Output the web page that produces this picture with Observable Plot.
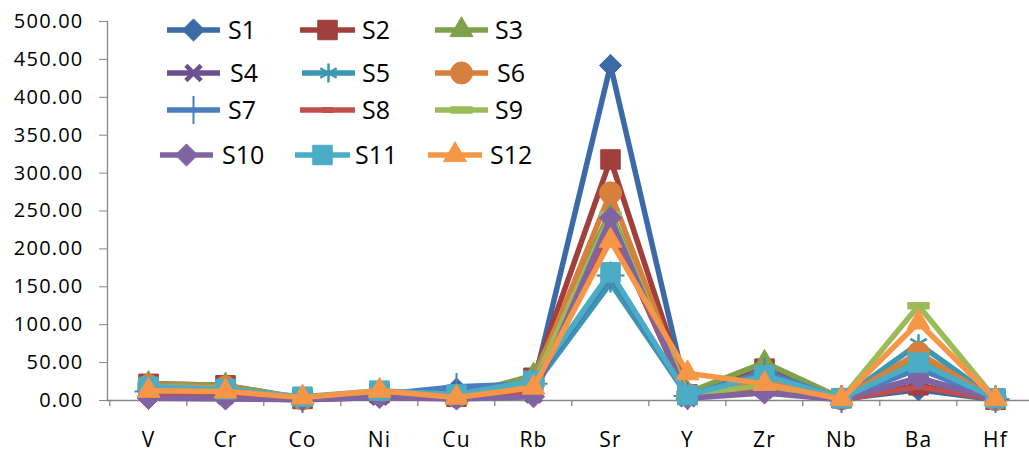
<!DOCTYPE html>
<html><head><meta charset="utf-8">
<script src="https://cdn.jsdelivr.net/npm/d3@7"></script>
<script src="https://cdn.jsdelivr.net/npm/@observablehq/plot@0.6"></script>
<style>
body{margin:0;background:#fff;}
#wrap{position:relative;width:1029px;height:457px;overflow:hidden;}
#legend{position:absolute;left:0;top:0;pointer-events:none;}
</style></head><body><div id="wrap"><div id="chart"></div><svg id="legend" width="1029" height="200"></svg></div>
<script>
const elements = ["V","Cr","Co","Ni","Cu","Rb","Sr","Y","Zr","Nb","Ba","Hf"];
const seriesNames = ["S1","S2","S3","S4","S5","S6","S7","S8","S9","S10","S11","S12"];
const S1  = [3, 3, 1, 8, 15, 20, 442, 5, 18, 2, 14, 1];
const S2  = [22, 20, 2, 10, 5, 30, 318, 8, 42, 3, 20, 1];
const S3  = [22, 20, 3, 12, 6, 33, 250, 10, 50, 3, 55, 2];
const S4  = [8, 6, 1, 5, 3, 8, 232, 3, 14, 1, 30, 1];
const S5  = [15, 12, 2, 9, 8, 18, 155, 6, 30, 2, 75, 2];
const S6  = [20, 18, 2, 10, 5, 25, 274, 8, 28, 2, 63, 1];
const S7  = [12, 10, 2, 8, 18, 22, 165, 6, 38, 2, 42, 2];
const S8  = [5, 4, 1, 4, 3, 10, 230, 4, 12, 1, 18, 1];
const S9  = [18, 16, 2, 10, 5, 22, 245, 8, 20, 2, 125, 2];
const S10 = [3, 2, 1, 4, 2, 5, 241, 3, 10, 1, 29, 1];
const S11 = [18, 15, 5, 13, 8, 26, 169, 7, 33, 3, 50, 3];
const S12 = [13, 12, 4, 13, 4, 17, 211, 36, 22, 2, 103, 2];
const seriesValues = [S1,S2,S3,S4,S5,S6,S7,S8,S9,S10,S11,S12];
const yTicks = [0,50,100,150,200,250,300,350,400,450,500];
const colors = ["#3C6AA6","#A13F3C","#7EA14A","#6A5290","#3A99B0","#D7803E",
                "#4A7EBF","#C0504D","#9BBB59","#8064A2","#4BACC6","#F79646"];

// custom marker shapes (Excel dash / long dash)
const dashShort = {draw(ctx, size){ const s=Math.sqrt(size); const w=s*1.0, h=s*0.45; ctx.rect(-w/2,-h/2,w,h);} };
const dashLong  = {draw(ctx, size){ const s=Math.sqrt(size); const w=s*1.1, h=s*0.33; ctx.rect(-w/2,-h/2,w,h);} };
const markerStyles = [
  {symbol:"diamond2", r:10, kind:"fill"},
  {symbol:"square", r:11, kind:"fill"},
  {symbol:"triangle", r:8.5, kind:"fill"},
  {symbol:"times", r:7, kind:"stroke", sw:4.5},
  {symbol:"asterisk", r:9, kind:"stroke", sw:2.5},
  {symbol:"circle", r:11, kind:"fill"},
  {symbol:"plus", r:9, kind:"stroke", sw:2},
  {symbol:dashShort, r:6, kind:"fill"},
  {symbol:dashLong, r:11, kind:"fill"},
  {symbol:"diamond2", r:10, kind:"fill"},
  {symbol:"square", r:11, kind:"fill"},
  {symbol:"triangle", r:8.5, kind:"fill"}
];

const W = 1029, H = 457, mL = 107, mR = -7, mT = 21, mB = 57;
const step = (W - mL - mR) / elements.length;
const axisColor = "#868686";

const marks = [];
marks.push(Plot.ruleY([0], {stroke: axisColor, strokeWidth: 1.3}));
marks.push(Plot.frame({anchor: "left", stroke: axisColor, strokeWidth: 1.3}));
marks.push(Plot.ruleX(elements, {x: d => d, y1: 0, y2: -8, dx: -step/2, stroke: axisColor, strokeWidth: 1.3}));
marks.push(Plot.ruleX([elements[elements.length-1]], {x: d => d, y1: 0, y2: -8, dx: step/2, stroke: axisColor, strokeWidth: 1.3}));
marks.push(Plot.axisY({ticks: yTicks, tickFormat: d3.format(".2f"), tickSize: 8, tickPadding: 16, stroke: axisColor, fontSize: 20, fill: "#000"}));
marks.push(Plot.axisX({tickSize: 0, tickPadding: 32, fontSize: 21, fill: "#000"}));

seriesValues.forEach((vals, i) => {
  const data = elements.map((e, j) => ({el: e, v: vals[j]}));
  const m = markerStyles[i];
  marks.push(Plot.line(data, {x: "el", y: "v", stroke: colors[i], strokeWidth: 5.5, strokeLinejoin: "round", strokeLinecap: "round"}));
  if (m.kind === "fill") {
    marks.push(Plot.dot(data, {x: "el", y: "v", symbol: m.symbol, r: m.r, fill: colors[i], stroke: colors[i], strokeWidth: 1}));
  } else {
    marks.push(Plot.dot(data, {x: "el", y: "v", symbol: m.symbol, r: m.r, fill: "none", stroke: colors[i], strokeWidth: m.sw}));
  }
});

const chart = Plot.plot({
  width: W, height: H,
  marginLeft: mL, marginRight: mR, marginTop: mT, marginBottom: mB,
  style: {fontFamily: "'Open Sans', sans-serif", letterSpacing: "1.2px", background: "#fff", color: "#000"},
  x: {type: "point", domain: elements, padding: 0.5, label: null},
  y: {domain: [0, 500], label: null},
  marks
});
document.getElementById("chart").appendChild(chart);

// legend (3 columns x 4 rows, placed inside plot area)
const legendPos = [
  [167,30,53,228],[300,30,55,362],[435,30,53,495],
  [167,73,53,230],[302,73,53,362],[435,73,53,497],
  [167,110,53,228],[300,110,55,362],[435,110,53,495],
  [160,155,53,222],[295,155,55,355],[428,155,54,490]
];
const lg = d3.select("#legend");
seriesNames.forEach((name, i) => {
  const [sx, sy, sw, tx] = legendPos[i];
  const g = lg.append("g");
  g.append("line").attr("x1", sx).attr("x2", sx + sw).attr("y1", sy).attr("y2", sy)
    .attr("stroke", colors[i]).attr("stroke-width", 5.5);
  const m = markerStyles[i];
  const symType = typeof m.symbol === "string" ? {
    "diamond2": d3.symbolDiamond2, "square": d3.symbolSquare, "triangle": d3.symbolTriangle,
    "times": d3.symbolTimes, "asterisk": d3.symbolAsterisk, "circle": d3.symbolCircle, "plus": d3.symbolPlus
  }[m.symbol] : m.symbol;
  const path = d3.symbol(symType, Math.PI * m.r * m.r)();
  const p = g.append("path").attr("d", path).attr("transform", `translate(${sx + sw/2},${sy})`);
  if (m.kind === "fill") p.attr("fill", colors[i]).attr("stroke", colors[i]).attr("stroke-width", 1);
  else p.attr("fill", "none").attr("stroke", colors[i]).attr("stroke-width", m.sw);
  g.append("text").attr("x", tx).attr("y", sy + 9).text(name)
    .attr("font-family", "'Open Sans', sans-serif").attr("font-size", 25).attr("fill", "#000");
});
</script></body></html>
